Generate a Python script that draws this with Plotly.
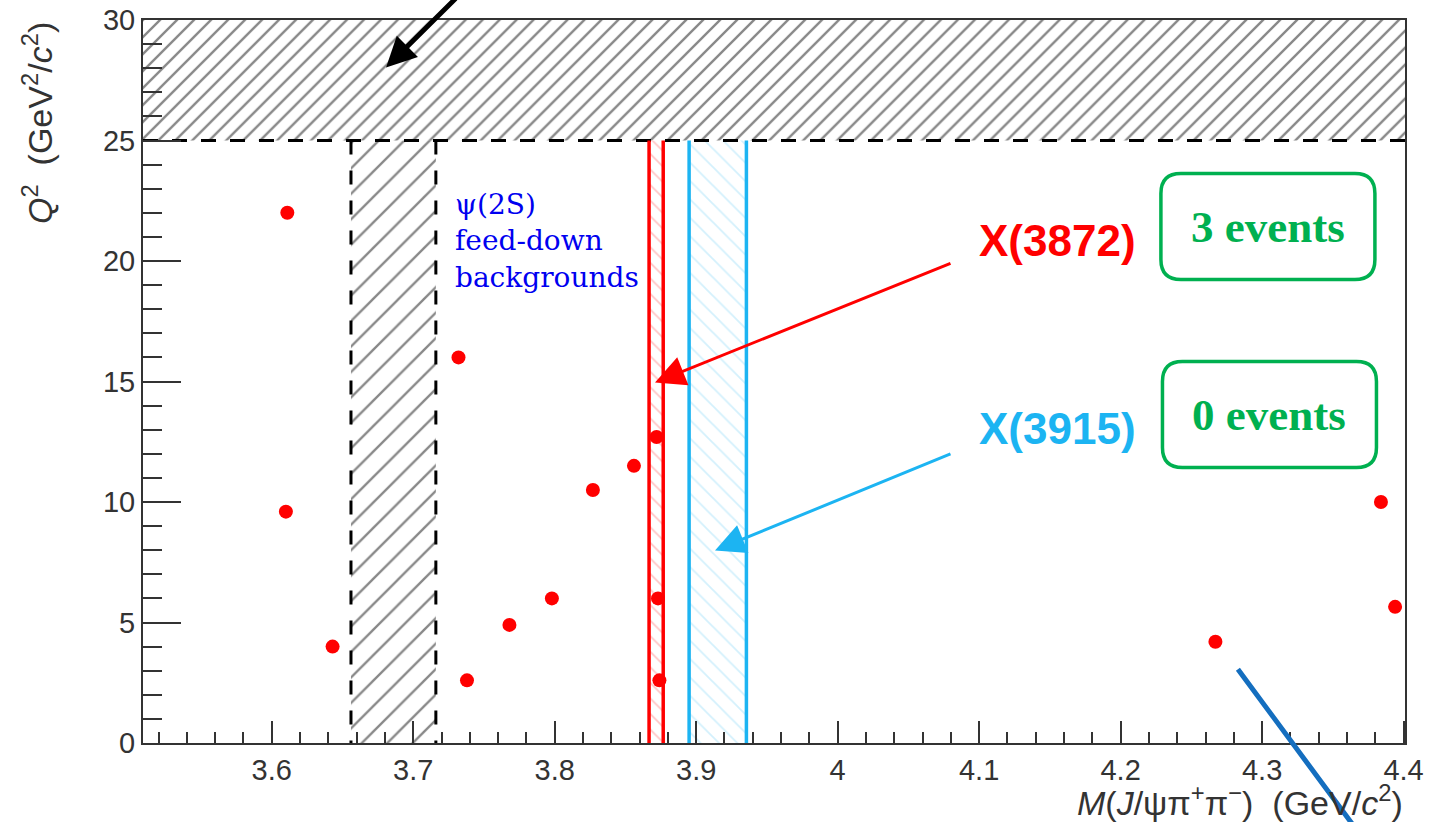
import plotly.graph_objects as go

# ---------------- data ----------------
mass = [3.611, 3.610, 3.643, 3.732, 3.738, 3.768, 3.798, 3.827, 3.856,
        3.872, 3.873, 3.874, 4.267, 4.384, 4.394]
q2 = [22.0, 9.6, 4.0, 16.0, 2.6, 4.9, 6.0, 10.5, 11.5,
      12.7, 6.0, 2.6, 4.2, 10.0, 5.65]

x_range = [3.509, 4.401]
y_range = [0, 30]
q2_cut = 25
psi_band = [3.656, 3.716]
x3872_band = [3.8667, 3.8767]
x3915_band = [3.895, 3.9355]

x_tickvals = [3.6, 3.7, 3.8, 3.9, 4.0, 4.1, 4.2, 4.3, 4.4]
x_ticktext = ["3.6", "3.7", "3.8", "3.9", "4", "4.1", "4.2", "4.3", "4.4"]
y_tickvals = [0, 5, 10, 15, 20, 25, 30]
y_ticktext = ["0", "5", "10", "15", "20", "25", "30"]

RED = "#FF0000"
CYAN = "#1CB4F2"
GREEN = "#00B050"
AXC = "#333333"

fig = go.Figure()


def box_trace(xs, ys, shape, size, fg, solidity):
    return go.Scatter(
        x=[xs[0], xs[1], xs[1], xs[0], xs[0]],
        y=[ys[0], ys[0], ys[1], ys[1], ys[0]],
        mode="none", fill="toself",
        fillcolor="rgba(0,0,0,0)",
        fillpattern=dict(shape=shape, size=size, solidity=solidity,
                         fgcolor=fg, bgcolor="rgba(0,0,0,0)"),
        hoverinfo="skip", showlegend=False)


def vline(xv, y0, y1, color, width, dash="solid"):
    return go.Scatter(x=[xv, xv], y=[y1, y0], mode="lines",
                      line=dict(color=color, width=width, dash=dash),
                      hoverinfo="skip", showlegend=False)


# hatched regions
fig.add_trace(box_trace(x_range, [q2_cut, y_range[1]], "/", 12, "#111111", 0.2))
fig.add_trace(box_trace(psi_band, [0, q2_cut], "/", 18, "#111111", 0.13))
fig.add_trace(box_trace(x3872_band, [0, q2_cut], "\\", 11, "#FF8C8C", 0.16))
fig.add_trace(box_trace(x3915_band, [0, q2_cut], "\\", 13, "#A8E2FA", 0.14))

# dashed cut lines
fig.add_trace(go.Scatter(x=x_range, y=[q2_cut, q2_cut], mode="lines",
                         line=dict(color="black", width=3, dash="15px,14px"),
                         hoverinfo="skip", showlegend=False))
for xv in psi_band:
    fig.add_trace(vline(xv, 0, q2_cut, "black", 3, "14px,16px"))

# signal windows
for xv in x3872_band:
    fig.add_trace(vline(xv, 0, q2_cut, RED, 3.5))
for xv in x3915_band:
    fig.add_trace(vline(xv, 0, q2_cut, CYAN, 3.5))

# events
fig.add_trace(go.Scatter(x=mass, y=q2, mode="markers",
                         marker=dict(color=RED, size=14, line=dict(width=0)),
                         showlegend=False))

# rounded boxes
def rounded_path(w, h, r):
    a, b = w / 2, h / 2
    return (f"M {-a+r},{-b} L {a-r},{-b} Q {a},{-b} {a},{-b+r} "
            f"L {a},{b-r} Q {a},{b} {a-r},{b} L {-a+r},{b} Q {-a},{b} {-a},{b-r} "
            f"L {-a},{-b+r} Q {-a},{-b} {-a+r},{-b} Z")

box_centers = [(4.3041, 21.43), (4.3052, 13.63)]
box_texts = ["3 events", "0 events"]
for (bx, by), bt in zip(box_centers, box_texts):
    fig.add_shape(type="path", xref="x", yref="y", xsizemode="pixel", ysizemode="pixel",
                  xanchor=bx, yanchor=by, path=rounded_path(214, 106, 20),
                  line=dict(color=GREEN, width=3.5), layer="above")
    fig.add_annotation(x=bx, y=by, xref="x", yref="y", text=bt, showarrow=False,
                       font=dict(family="Liberation Serif", size=45, color=GREEN, weight="bold"),
                       xanchor="center", yanchor="middle")

# labels
fig.add_annotation(x=3.728, y=20.85, xref="x", yref="y",
                   text="ψ(2S)<br>feed-down<br>backgrounds", showarrow=False,
                   align="left", xanchor="left", yanchor="middle",
                   font=dict(family="DejaVu Serif", size=28, color="#0000F0"))
fig.add_annotation(x=4.1557, y=20.84, xref="x", yref="y", text="X(3872)",
                   showarrow=False, xanchor="center", yanchor="middle",
                   font=dict(family="Liberation Sans", size=44, color=RED, weight="bold"))
fig.add_annotation(x=4.1557, y=13.05, xref="x", yref="y", text="X(3915)",
                   showarrow=False, xanchor="center", yanchor="middle",
                   font=dict(family="Liberation Sans", size=44, color=CYAN, weight="bold"))

# arrows
arrows = [
    dict(x=3.6808, y=28.03, ax=3.7310, ay=30.95, color="black", width=5, head=2, size=1.2),
    dict(x=3.8709, y=14.96, ax=4.0808, ay=19.93, color=RED, width=3, head=2, size=2.0),
    dict(x=3.9133, y=7.99, ax=4.0808, ay=12.02, color=CYAN, width=3, head=2, size=2.0),
    dict(x=4.2829, y=3.06, ax=4.367, ay=-3.62, color="#146EBF", width=5, head=0, size=1),
]
for a in arrows:
    fig.add_annotation(x=a["x"], y=a["y"], ax=a["ax"], ay=a["ay"], xref="x", yref="y",
                       axref="x", ayref="y", text="", showarrow=True,
                       arrowhead=a["head"], arrowsize=a["size"], arrowwidth=a["width"],
                       arrowcolor=a["color"], standoff=0)

# axis titles
fig.add_annotation(xref="paper", yref="paper", x=-0.084, y=1.0,
                   text="<i>Q</i><sup>2</sup>\u00a0\u00a0(GeV<sup>2</sup>/<i>c</i><sup>2</sup>)",
                   textangle=-90, showarrow=False, xanchor="center", yanchor="top",
                   font=dict(family="Liberation Sans", size=34, color=AXC))
fig.add_annotation(xref="paper", yref="paper", x=1.0, y=-0.079,
                   text="<i>M</i>(<i>J</i>/ψπ<sup>+</sup>π<sup>−</sup>)\u00a0\u00a0(GeV/<i>c</i><sup>2</sup>)",
                   showarrow=False, xanchor="right", yanchor="middle",
                   font=dict(family="Liberation Sans", size=34, color=AXC))

fig.update_xaxes(range=x_range, tickmode="array", tickvals=x_tickvals, ticktext=x_ticktext,
                 ticks="inside", ticklen=22, tickwidth=2, tickcolor=AXC,
                 minor=dict(ticks="inside", ticklen=11, tickwidth=2, tickcolor=AXC,
                            tickmode="linear", tick0=3.6, dtick=0.02, showgrid=False),
                 showline=True, linecolor=AXC, linewidth=2, mirror=True,
                 showgrid=False, zeroline=False, automargin=False,
                 tickfont=dict(family="Liberation Sans", size=29, color=AXC))
fig.update_yaxes(range=y_range, tickmode="array", tickvals=y_tickvals, ticktext=y_ticktext,
                 ticks="inside", ticklen=38, tickwidth=2, tickcolor=AXC,
                 minor=dict(ticks="inside", ticklen=19, tickwidth=2, tickcolor=AXC,
                            tickmode="linear", tick0=0, dtick=1, showgrid=False),
                 showline=True, linecolor=AXC, linewidth=2, mirror=True,
                 showgrid=False, zeroline=False, automargin=False,
                 tickfont=dict(family="Liberation Sans", size=29, color=AXC))

fig.update_layout(width=1430, height=822, autosize=False,
                  margin=dict(l=143, r=25, t=20, b=79, autoexpand=False),
                  paper_bgcolor="white", plot_bgcolor="white", showlegend=False)

fig.write_html("out.html")
